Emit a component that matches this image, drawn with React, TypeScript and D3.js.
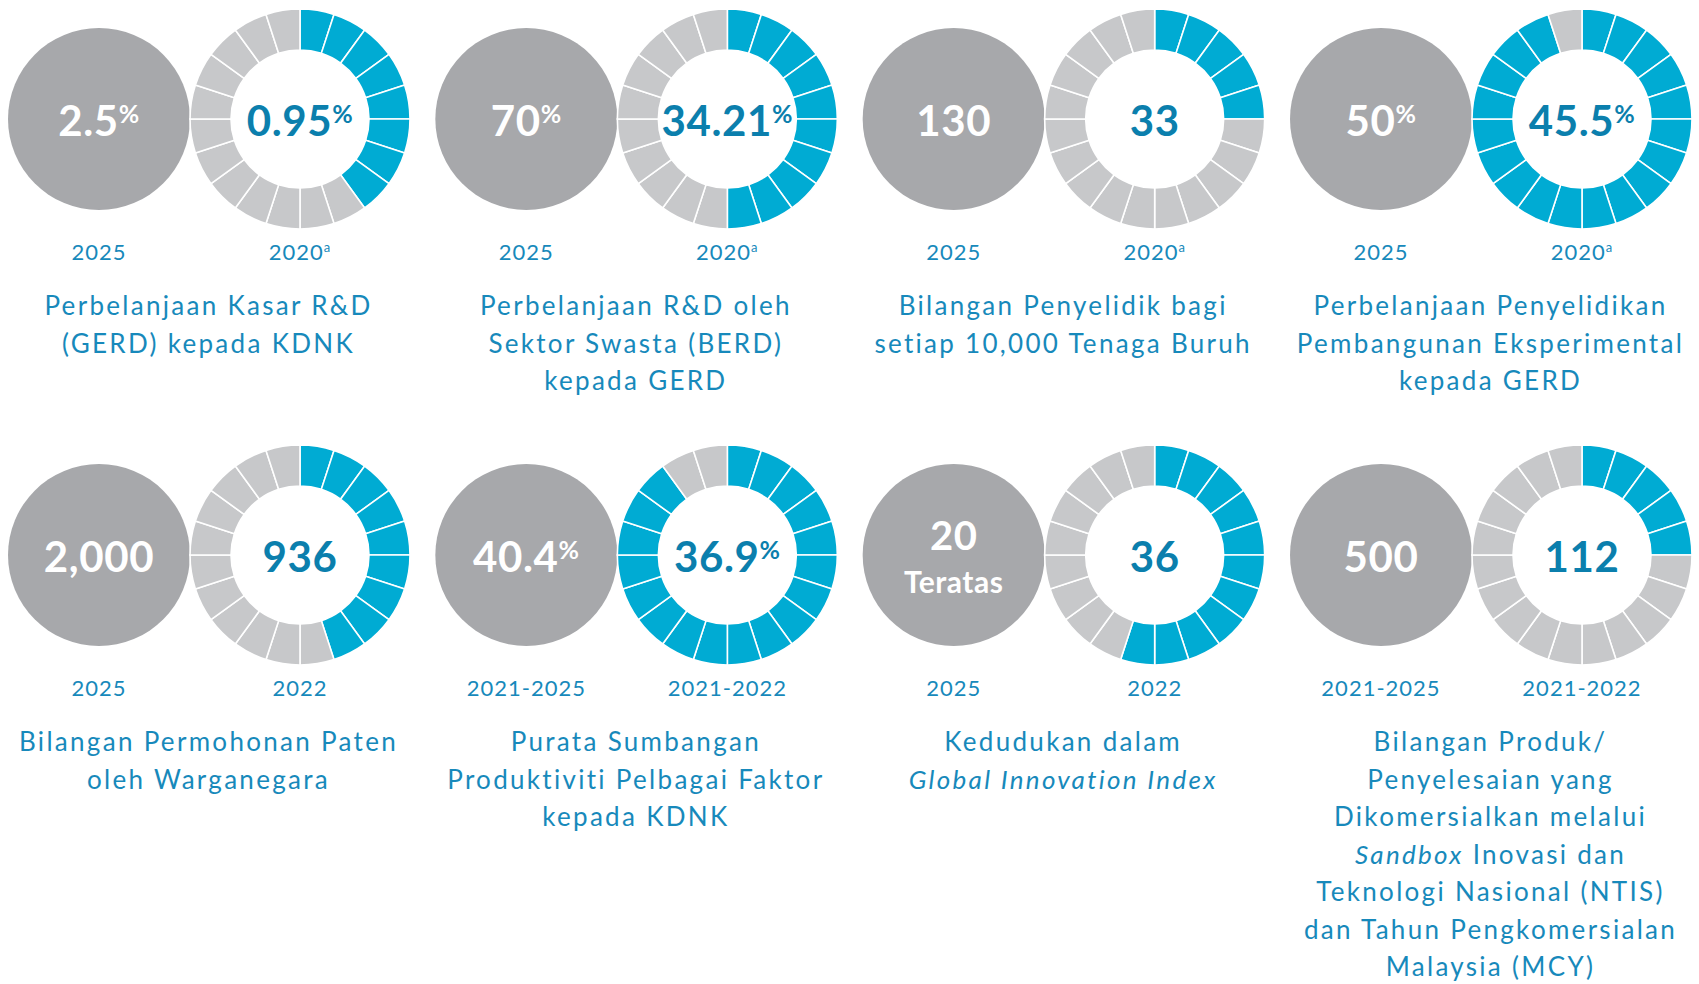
import React from "react";
import * as d3 from "d3";

const targetValues = ["2.5", "70", "130", "50", "2,000", "40.4", "20", "500"];
const targetSuffix = ["%", "%", "", "%", "", "%", "", ""];
const targetSubLabel = ["", "", "", "", "", "", "Teratas", ""];
const currentValues = ["0.95", "34.21", "33", "45.5", "936", "36.9", "36", "112"];
const currentSuffix = ["%", "%", "", "%", "", "%", "", ""];
const targetYears = ["2025", "2025", "2025", "2025", "2025", "2021-2025", "2025", "2021-2025"];
const currentYears = ["2020", "2020", "2020", "2020", "2022", "2021-2022", "2022", "2021-2022"];
const yearNotes = ["a", "a", "a", "a", "", "", "", ""];
const filledSegments = [8, 10, 5, 19, 9, 18, 11, 5];
const titles = [
  ["Perbelanjaan Kasar R&D", "(GERD) kepada KDNK"],
  ["Perbelanjaan R&D oleh", "Sektor Swasta (BERD)", "kepada GERD"],
  ["Bilangan Penyelidik bagi", "setiap 10,000 Tenaga Buruh"],
  ["Perbelanjaan Penyelidikan", "Pembangunan Eksperimental", "kepada GERD"],
  ["Bilangan Permohonan Paten", "oleh Warganegara"],
  ["Purata Sumbangan", "Produktiviti Pelbagai Faktor", "kepada KDNK"],
  ["Kedudukan dalam", "_Global Innovation Index_"],
  [
    "Bilangan Produk/",
    "Penyelesaian yang",
    "Dikomersialkan melalui",
    "_Sandbox_ Inovasi dan",
    "Teknologi Nasional (NTIS)",
    "dan Tahun Pengkomersialan",
    "Malaysia (MCY)",
  ],
];

const SEGMENTS = 20;
const BLUE = "#00abd3";
const LIGHT = "#c7c8ca";
const GRAY = "#a7a8ab";
const VALUE_BLUE = "#0b7fad";
const TEXT_BLUE = "#1789bb";
const FONT = "Lato, 'Open Sans', sans-serif";

const colX = d3.scaleLinear().domain([0, 3]).range([99, 1381]);
const rowY = d3.scaleLinear().domain([0, 1]).range([119, 555]);
const angle = d3.scaleLinear().domain([0, SEGMENTS]).range([0, 2 * Math.PI]);
const arcGen = d3.arc<number>()
  .innerRadius(69)
  .outerRadius(110)
  .startAngle((i) => angle(i))
  .endAngle((i) => angle(i + 1));

function renderLine(line: string, key: number, x: number, y: number) {
  const parts = line.split("_");
  return (
    <text key={key} x={x} y={y} textAnchor="middle" fontSize={26} fill={TEXT_BLUE} fontFamily={FONT} letterSpacing={2.3}>
      {parts.map((p, i) => (
        <tspan key={i} fontStyle={i % 2 === 1 ? "italic" : "normal"}>{p}</tspan>
      ))}
    </text>
  );
}

function Panel({ idx }: { idx: number }) {
  const col = idx % 4;
  const row = Math.floor(idx / 4);
  const gx = colX(col);
  const cy = rowY(row);
  const dx = gx + 201;
  const segs = d3.range(SEGMENTS);
  const sub = targetSubLabel[idx];
  return (
    <g>
      <circle cx={gx} cy={cy} r={91} fill={GRAY} />
      {sub ? (
        <>
          <text x={gx} y={cy - 5} textAnchor="middle" fontSize={40} fontWeight={700} fill="#fff" fontFamily={FONT} letterSpacing={0.5}>
            {targetValues[idx]}
          </text>
          <text x={gx} y={cy + 38} textAnchor="middle" fontSize={30} fontWeight={700} fill="#fff" fontFamily={FONT} letterSpacing={0.5}>
            {sub}
          </text>
        </>
      ) : (
        <text x={gx} y={cy + 17} textAnchor="middle" fontSize={42} fontWeight={700} fill="#fff" fontFamily={FONT} letterSpacing={0.6}>
          {targetValues[idx]}
          {targetSuffix[idx] && <tspan fontSize={25} dy={-13}>{targetSuffix[idx]}</tspan>}
        </text>
      )}
      <g transform={`translate(${dx},${cy})`}>
        {segs.map((i) => (
          <path key={i} d={arcGen(i) || ""} fill={i < filledSegments[idx] ? BLUE : LIGHT} stroke="#fff" strokeWidth={1.6} />
        ))}
      </g>
      <text x={dx} y={cy + 17} textAnchor="middle" fontSize={42} fontWeight={700} fill={VALUE_BLUE} fontFamily={FONT} letterSpacing={0.6}>
        {currentValues[idx]}
        {currentSuffix[idx] && <tspan fontSize={25} dy={-13}>{currentSuffix[idx]}</tspan>}
      </text>
      <text x={gx} y={cy + 141} textAnchor="middle" fontSize={22} fill={TEXT_BLUE} fontFamily={FONT} letterSpacing={1}>
        {targetYears[idx]}
      </text>
      <text x={dx} y={cy + 141} textAnchor="middle" fontSize={22} fill={TEXT_BLUE} fontFamily={FONT} letterSpacing={1}>
        {currentYears[idx]}
        {yearNotes[idx] && <tspan fontSize={13} dy={-8}>{yearNotes[idx]}</tspan>}
      </text>
      {titles[idx].map((line, i) => renderLine(line, i, (gx + dx) / 2 + 9, cy + 196 + i * 37.5))}
    </g>
  );
}

export default function App() {
  return (
    <svg width={1699} height={984} style={{ position: "absolute", left: 0, top: 0, background: "#fff" }}>
      <rect width={1699} height={984} fill="#fff" />
      {targetValues.map((_, i) => (
        <Panel key={i} idx={i} />
      ))}
    </svg>
  );
}
